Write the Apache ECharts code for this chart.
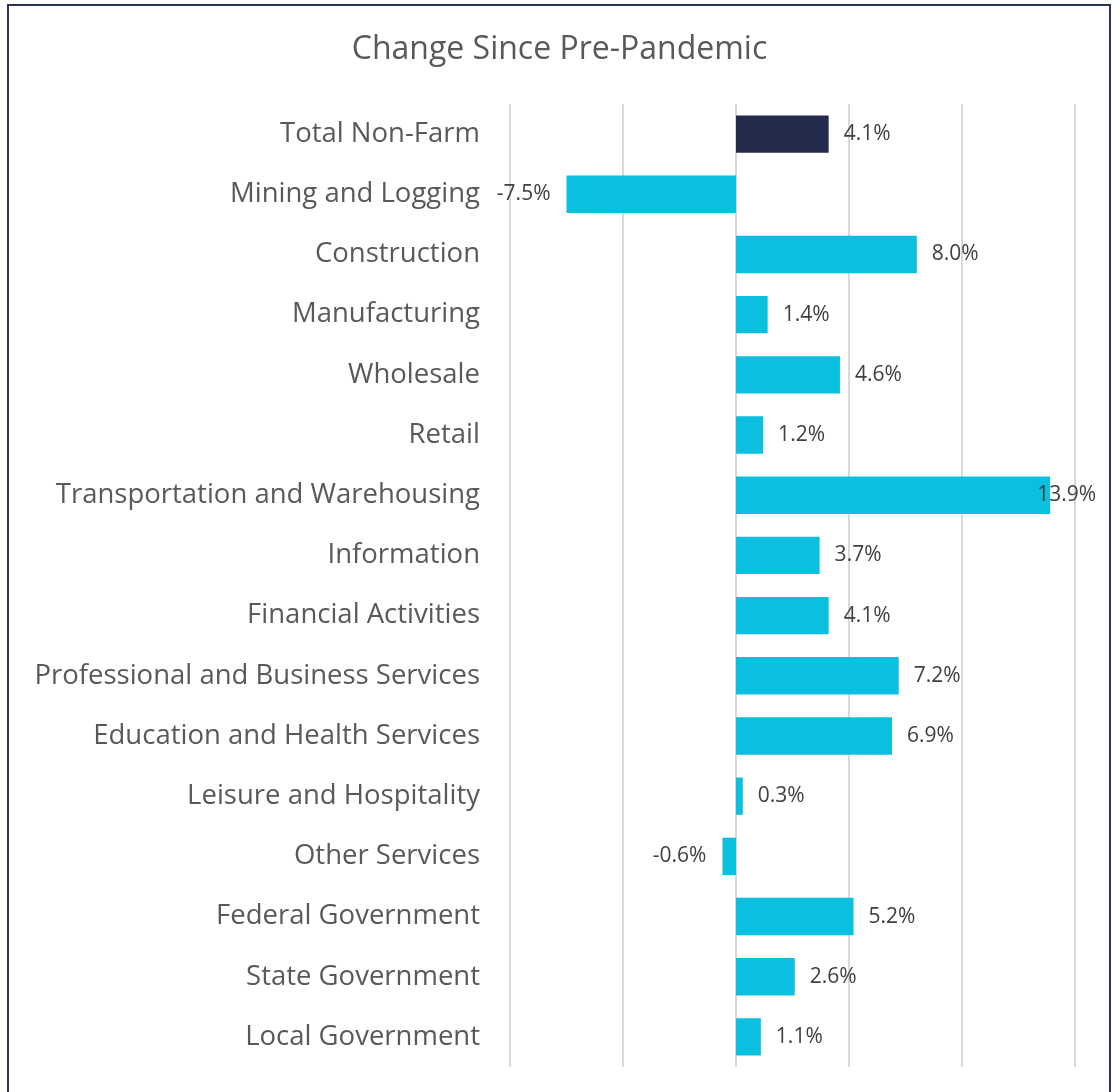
<!DOCTYPE html>
<html>
<head>
<meta charset="utf-8">
<script src="https://cdn.jsdelivr.net/npm/echarts@6/dist/echarts.min.js"></script>
<style>
  html, body { margin: 0; padding: 0; background: #fff; }
  #chart { width: 1119px; height: 1092px; }
</style>
</head>
<body>
<div id="chart"></div>
<script>
const categories = [
  'Total Non-Farm', 'Mining and Logging', 'Construction', 'Manufacturing',
  'Wholesale', 'Retail', 'Transportation and Warehousing', 'Information',
  'Financial Activities', 'Professional and Business Services',
  'Education and Health Services', 'Leisure and Hospitality', 'Other Services',
  'Federal Government', 'State Government', 'Local Government'
]
const changePct = [4.1, -7.5, 8.0, 1.4, 4.6, 1.2, 13.9, 3.7, 4.1, 7.2, 6.9, 0.3, -0.6, 5.2, 2.6, 1.1]

const chart = echarts.init(document.getElementById('chart'))

const barData = changePct.map((v, i) => {
  const item = { value: v }
  if (i === 0) item.itemStyle = { color: '#222b4c' }
  // negative bars get their label on the left
  if (v < 0) item.label = { position: 'left', distance: 16 }
  // the longest bar's label sits back over the bar end, like the original
  if (v === 13.9) item.label = { offset: [-28, 0] }
  return item
})

const option = {
  animation: false,
  backgroundColor: '#fff',
  title: {
    text: 'Change Since Pre-Pandemic',
    left: 'center',
    top: 29,
    textStyle: {
      fontFamily: 'Open Sans',
      fontSize: 32,
      fontWeight: 'normal',
      color: '#595959'
    }
  },
  graphic: [
    {
      type: 'rect',
      shape: { x: 8, y: 5, width: 1102, height: 1200 },
      style: { fill: 'none', stroke: '#2b3557', lineWidth: 2 },
      silent: true
    }
  ],
  grid: { left: 510, right: 44, top: 104, bottom: 25 },
  xAxis: {
    type: 'value',
    min: -10,
    max: 15,
    interval: 5,
    axisLabel: { show: false },
    axisLine: { show: false },
    axisTick: { show: false },
    splitLine: { show: true, lineStyle: { color: '#d9d9d9', width: 2 } }
  },
  yAxis: {
    type: 'category',
    inverse: true,
    data: categories,
    axisLine: { show: false },
    axisTick: { show: false },
    axisLabel: {
      margin: 30,
      fontFamily: 'Open Sans',
      fontSize: 27.5,
      color: '#595959',
      padding: [4, 0, 0, 0]
    }
  },
  series: [
    {
      type: 'bar',
      data: barData,
      barCategoryGap: '38%',
      itemStyle: { color: '#0bbfdf' },
      label: {
        show: true,
        position: 'right',
        distance: 15,
        fontFamily: 'Open Sans',
        fontSize: 21,
        color: '#404040',
        formatter: (p) => p.value.toFixed(1) + '%'
      }
    }
  ]
}

chart.setOption(option)
</script>
</body>
</html>
